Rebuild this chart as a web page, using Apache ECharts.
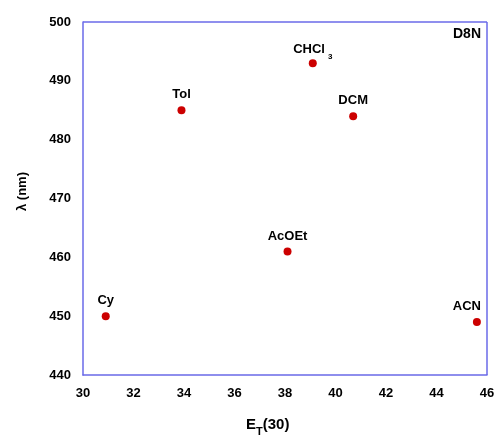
<!DOCTYPE html>
<html>
<head>
<meta charset="utf-8">
<script src="https://cdn.jsdelivr.net/npm/echarts@6/dist/echarts.min.js"></script>
<style>
html,body{margin:0;padding:0;background:#fff;}
#chart{width:499px;height:441px;}
</style>
</head>
<body>
<div id="chart"></div>
<script>
// Solvent names, E_T(30) polarity values and emission maxima (nm)
const solvents = ['Cy', 'Tol', 'AcOEt', 'CHCl3', 'DCM', 'ACN'];
const etValues = [30.9, 33.9, 38.1, 39.1, 40.7, 45.6];
const lambdaValues = [450, 485, 461, 493, 484, 449];
const xTicks = [30, 32, 34, 36, 38, 40, 42, 44, 46];
const yTicks = [440, 450, 460, 470, 480, 490, 500];

const FONT = '"Liberation Sans", Arial, sans-serif';
const axisColor = '#6a6ae8';

// label nudges: ACN sits against the right frame, CHCl3 carries a subscript
const labelOffsets = { ACN: [-10, 0], CHCl3: [0, 7] };

const points = solvents.map((name, i) => ({
  name: name,
  value: [etValues[i], lambdaValues[i]],
  label: {
    formatter: name === 'CHCl3' ? '{b|CHCl}{s|3}' : '{b|' + name + '}',
    offset: labelOffsets[name] || [0, 0]
  }
}));

const chart = echarts.init(document.getElementById('chart'));
chart.setOption({
  animation: false,
  backgroundColor: '#fff',
  grid: { left: 83, top: 22, right: 12, bottom: 66 },
  xAxis: {
    type: 'value', min: xTicks[0], max: xTicks[xTicks.length - 1], interval: 2,
    axisLine: { onZero: false, lineStyle: { color: axisColor, width: 1.5 } },
    axisTick: { show: false },
    splitLine: { show: false },
    axisLabel: { color: '#000', fontWeight: 'bold', fontSize: 13, fontFamily: FONT, margin: 12 }
  },
  yAxis: {
    type: 'value', min: yTicks[0], max: yTicks[yTicks.length - 1], interval: 10,
    axisLine: { onZero: false, lineStyle: { color: axisColor, width: 1.5 } },
    axisTick: { show: false },
    splitLine: { show: false },
    axisLabel: { color: '#000', fontWeight: 'bold', fontSize: 13, fontFamily: FONT, margin: 12 },
    name: 'λ (nm)', nameLocation: 'middle', nameGap: 54, nameRotate: 90,
    nameTextStyle: { color: '#000', fontWeight: 'bold', fontSize: 13, fontFamily: FONT, padding: [0, 0, 0, 14] }
  },
  graphic: [
    // frame on top and right sides
    { type: 'line', shape: { x1: 83, y1: 22, x2: 487, y2: 22 }, style: { stroke: axisColor, lineWidth: 1.5 } },
    { type: 'line', shape: { x1: 487, y1: 22, x2: 487, y2: 375 }, style: { stroke: axisColor, lineWidth: 1.5 } },
    { type: 'text', right: 18, top: 27, style: { text: 'D8N', fill: '#000', font: 'bold 14px ' + FONT } },
    // x-axis title with subscript
    {
      type: 'text', left: 246, top: 417,
      style: {
        text: '{e|E}{t|T}{e|(30)}',
        rich: {
          e: { fontSize: 15, fontWeight: 'bold', fontFamily: FONT, fill: '#000' },
          t: { fontSize: 11, fontWeight: 'bold', fontFamily: FONT, fill: '#000', padding: [14, 0, 0, 0] }
        }
      }
    }
  ],
  series: [{
    type: 'scatter',
    symbol: 'circle', symbolSize: 8,
    itemStyle: { color: '#cc0000', opacity: 1 },
    data: points,
    label: {
      show: true, position: 'top', distance: 5, color: '#000',
      rich: {
        b: { fontSize: 13, fontWeight: 'bold', fontFamily: FONT, color: '#000' },
        s: { fontSize: 8, fontWeight: 'bold', fontFamily: FONT, color: '#000', padding: [16, 0, 0, 3] }
      }
    }
  }]
});
</script>
</body>
</html>
